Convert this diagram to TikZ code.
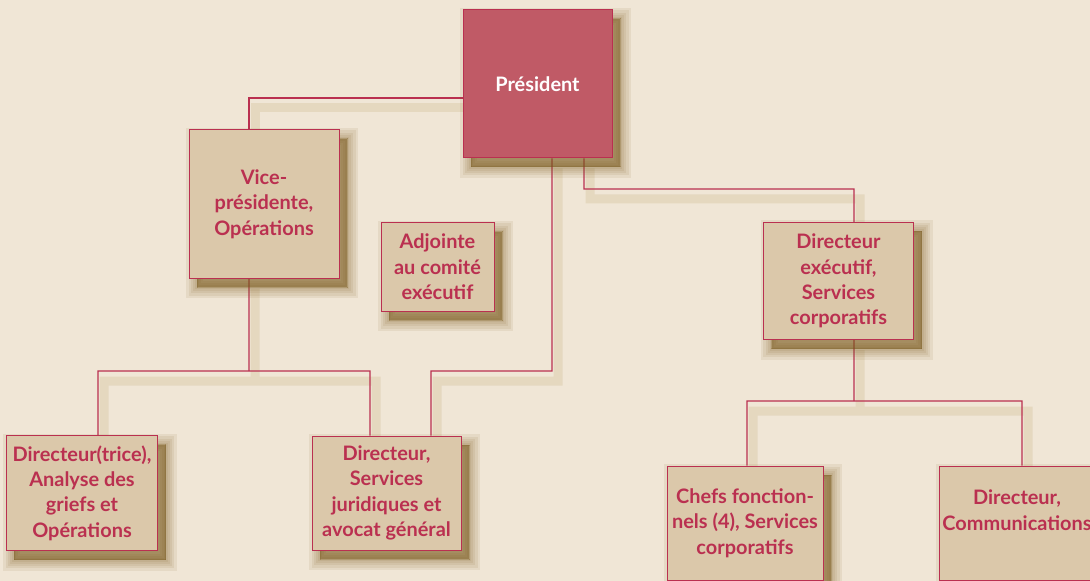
\documentclass[tikz,border=0pt]{standalone}
\usepackage{fontspec}
\setmainfont{Lato}
\definecolor{fond}{HTML}{F0E6D6}
\definecolor{tan}{HTML}{DBC8AA}
\definecolor{cramoisi}{HTML}{BA3050}
\definecolor{rose}{HTML}{C05A66}
\definecolor{ombre}{HTML}{7A5A1E}
\definecolor{ombrefil}{HTML}{E5D8BF}
\pgfdeclarelayer{fond}
\pgfdeclarelayer{ombres}
\pgfdeclarelayer{fils}
\pgfsetlayers{fond,ombres,fils,main}
% un lien et son ombre
\newcommand\lien[1]{%
  \begin{pgfonlayer}{ombres}
    \draw[ombrelien] #1;
  \end{pgfonlayer}
  \begin{pgfonlayer}{fils}
    \draw[trait] #1;
  \end{pgfonlayer}}
\begin{document}
\begin{tikzpicture}[
  x=1bp, y=-1bp,
  every node/.style={font=\fontsize{20}{25.5}\selectfont\bfseries, align=center},
  flou/.style={preaction={fill=ombre, draw=ombre, line width=#1, opacity=.09,
      transform canvas={shift={(8bp,-9bp)}}}},
  poste/.style={draw=cramoisi, line width=1bp, fill=tan, text=cramoisi,
    inner sep=0pt, flou=22bp, flou=17bp, flou=12bp, flou=8bp, flou=4bp,
    flou=0bp, flou=0bp, flou=0bp},
  trait/.style={draw=cramoisi, line width=1.1bp},
  ombrelien/.style={draw=ombrefil, line width=9bp, transform canvas={shift={(6bp,-10bp)}}}
]
\begin{pgfonlayer}{fond}
\fill[fond] (0,0) rectangle (1090,581);
\end{pgfonlayer}
\useasboundingbox (0,0) rectangle (1090,581);

\node[poste, fill=rose, text=white, minimum width=149bp, minimum height=148bp] (Pres)
  at (537.5,84) {Président};
\node[poste, minimum width=150bp, minimum height=148bp] (VP)
  at (264,204) {Vice-\\présidente,\\Opérations};
\node[poste, minimum width=113bp, minimum height=88bp] (Adj)
  at (437.5,267) {Adjointe\\au comité\\exécutif};
\node[poste, minimum width=150bp, minimum height=117bp] (DirEx)
  at (838.5,281) {Directeur\\exécutif,\\Services\\corporatifs};
\node[poste, minimum width=151bp, minimum height=115bp] (DirGr)
  at (82,493) {Directeur(trice),\\Analyse des\\griefs et\\Opérations};
\node[poste, minimum width=149bp, minimum height=114bp] (DirJur)
  at (386.5,493) {Directeur,\\Services\\juridiques et\\avocat général};
\node[poste, minimum width=156bp, minimum height=114bp] (Chefs)
  at (745,523) {Chefs fonction-\\nels (4), Services\\corporatifs};
\node[poste, minimum width=156bp, minimum height=114bp] (Comm)
  at (1017,523) {Directeur,\\Communications\\\mbox{}};

% president
\lien{([yshift=-14bp]Pres.west) -| ([xshift=-15bp]VP.north)}
\lien{([xshift=14.5bp]Pres.south) |- (431,371) -- ([xshift=44.5bp]DirJur.north)}
\lien{([xshift=46.5bp]Pres.south) |- (854,189) -- ([xshift=15.5bp]DirEx.north)}
% vice-presidente
\lien{([xshift=-15bp]VP.south) -- (249,371)}
\lien{([xshift=16bp]DirGr.north) |- (370,371) -- ([xshift=-16.5bp]DirJur.north)}
% services corporatifs
\lien{([xshift=15.5bp]DirEx.south) -- (854,401)}
\lien{([xshift=2bp]Chefs.north) |- (1022,401) -- ([xshift=5bp]Comm.north)}
\end{tikzpicture}
\end{document}
